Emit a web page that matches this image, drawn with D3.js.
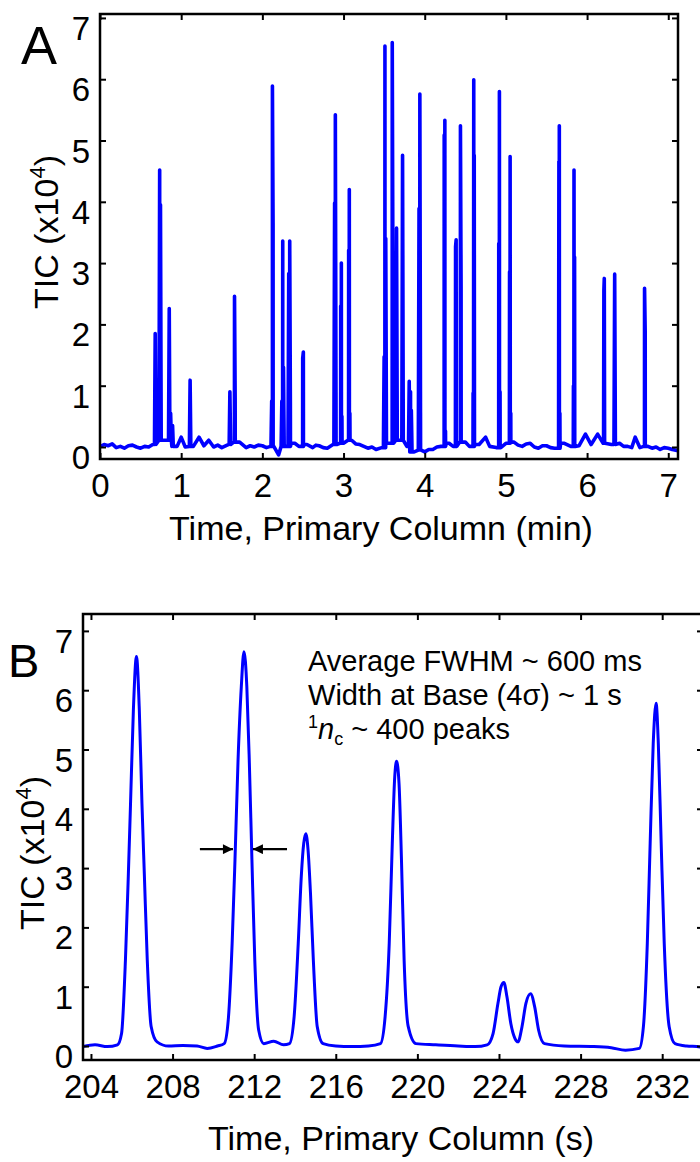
<!DOCTYPE html>
<html>
<head>
<meta charset="utf-8">
<script src="https://cdn.jsdelivr.net/npm/d3@7"></script>
<style>
body { margin: 0; background: #fff; }
text { font-family: "Liberation Sans", Arial, sans-serif; fill: #000; }
</style>
</head>
<body>
<svg id="chart" width="700" height="1162"></svg>
<script>
// ---- Panel A: primary column, whole run (min, TIC x10^4) ----
const aPeakTimes   = [0.68, 0.735, 0.745, 0.853, 0.87, 0.894, 1.11, 1.60, 1.657, 1.665,
                      2.115, 2.124, 2.132, 2.24, 2.251, 2.26, 2.325, 2.337, 2.345, 2.497, 2.505,
                      2.89, 2.899, 2.907, 2.965, 2.973, 2.98, 3.063, 3.071, 3.078,
                      3.50, 3.51, 3.52, 3.60, 3.608, 3.653, 3.727, 3.809, 3.825, 3.835,
                      3.93, 3.94, 3.948, 4.24, 4.248, 4.256, 4.38, 4.387, 4.44, 4.448,
                      4.596, 4.604, 4.61, 4.912, 4.92, 4.928, 5.045, 5.052, 5.06,
                      5.65, 5.653, 5.658, 5.665, 5.832, 5.839, 5.846,
                      6.207, 6.212, 6.34, 6.708, 6.716];
const aPeakHeights = [1.85, 4.52, 3.95, 2.26, 0.55, 0.35, 1.09, 0.90, 2.46, 0.8,
                      0.75, 5.89, 3.65, 0.75, 3.36, 1.3, 2.83, 3.36, 0.73, 1.45, 1.55,
                      3.98, 5.42, 0.88, 2.3, 3.0, 0.5, 3.21, 4.2, 0.55,
                      1.47, 6.54, 3.4, 6.6, 2.89, 3.57, 4.76, 1.07, 0.9, 0.6,
                      3.89, 5.76, 0.55, 5.09, 5.33, 0.26, 3.27, 3.38, 5.24, 2.62,
                      0.88, 5.99, 4.76, 3.32, 5.8, 0.9, 2.86, 4.74, 0.55,
                      1.65, 4.66, 5.24, 0.55, 1.0, 4.52, 3.1,
                      2.56, 2.75, 2.82, 2.59, 1.88];
const aBaseTimes  = [0, 0.05, 0.1, 0.15, 0.2, 0.25, 0.3, 0.35, 0.4, 0.45, 0.5, 0.55, 0.6, 0.65, 0.8, 0.95,
                     1.0, 1.05, 1.15, 1.22, 1.28, 1.34, 1.4, 1.45, 1.5, 1.58, 1.72, 1.8, 1.85, 1.9, 1.95,
                     2.0, 2.05, 2.1, 2.2, 2.28, 2.4, 2.45, 2.55, 2.62, 2.66, 2.7, 2.75, 2.8, 2.87, 3.0,
                     3.1, 3.15, 3.2, 3.25, 3.3, 3.35, 3.4, 3.47, 3.56, 3.68, 3.78, 3.87, 3.92, 4.0, 4.05,
                     4.1, 4.15, 4.2, 4.3, 4.35, 4.5, 4.55, 4.67, 4.75, 4.8, 4.88, 5.0, 5.1, 5.15, 5.2,
                     5.25, 5.3, 5.35, 5.4, 5.45, 5.5, 5.55, 5.6, 5.72, 5.8, 5.9, 5.98, 6.05, 6.13, 6.2,
                     6.3, 6.4, 6.45, 6.5, 6.55, 6.593, 6.65, 6.75, 6.8, 6.85, 6.9, 6.95, 7.0, 7.05, 7.12];
const aBaseValues = [0.01, 0.04, 0.02, 0.05, -0.01, 0.01, -0.02, 0.02, 0.03, 0.0, -0.02, 0.01, 0.0, 0.04, 0.11, 0.01,
                     0.16, 0.0, 0.01, 0.16, 0.02, 0.11, 0.0, 0.03, -0.01, 0.04, 0.08, -0.01, 0.02, 0.0, 0.03,
                     0.02, -0.01, 0.01, -0.13, 0.01, 0.06, 0.01, 0.04, -0.01, 0.03, 0.02, -0.01, -0.02, 0.04, 0.06,
                     0.11, 0.05, 0.04, 0.01, -0.02, 0.0, -0.04, -0.01, 0.06, 0.11, 0.01, -0.08, -0.05, -0.08, -0.04,
                     -0.04, 0.0, 0.01, 0.06, 0.01, 0.08, 0.01, 0.04, 0.16, 0.01, -0.01, 0.06, 0.08, 0.03, 0.01,
                     0.05, 0.06, 0.0, -0.02, 0.02, 0.02, -0.01, -0.02, 0.06, 0.01, 0.02, 0.21, 0.04, 0.21, 0.06,
                     0.04, 0.06, 0.01, 0.01, -0.01, 0.16, -0.01, 0.01, -0.02, 0.0, -0.04, -0.01, -0.02, -0.04, -0.06];
const aXTicks = [0, 1, 2, 3, 4, 5, 6, 7];
const aYTicks = [0, 1, 2, 3, 4, 5, 6, 7];

// ---- Panel B: zoom 204-234 s ----
const bTimes = [203.6, 204.2, 204.8, 205.3, 205.5, 205.69, 205.83, 205.94, 206.08, 206.23, 206.37, 206.50,
                206.62, 206.76, 206.95, 207.24, 207.8, 208.5, 209.2, 209.7, 210.2, 210.53, 210.73, 210.92,
                211.06, 211.21, 211.37, 211.50, 211.64, 211.76, 211.89, 212.03, 212.22, 212.47, 212.96,
                213.44, 213.73, 213.96, 214.16, 214.31, 214.43, 214.53, 214.64, 214.76, 214.90, 215.09,
                215.38, 216.0, 216.8, 217.6, 218.19, 218.42, 218.62, 218.77, 218.89, 218.98, 219.10,
                219.22, 219.35, 219.55, 219.93, 220.9, 222.0, 222.84, 223.42, 223.71, 223.95, 224.10,
                224.24, 224.39, 224.58, 224.78, 224.93, 225.13, 225.32, 225.55, 225.75, 225.94, 226.23,
                227.2, 228.65, 229.5, 230.2, 230.88, 231.08, 231.27, 231.41, 231.56, 231.70, 231.81,
                231.95, 232.10, 232.34, 232.63, 233.2, 233.7, 234.0];
const bValues = [-0.01, 0.02, -0.01, 0.02, 0.21, 1.45, 2.86, 4.09, 5.67, 6.57, 5.67, 4.09,
                 2.86, 1.45, 0.33, 0.07, 0.0, 0.01, 0.0, -0.04, 0.0, 0.04, 0.44, 1.73,
                 3.14, 4.82, 6.06, 6.65, 6.06, 4.82, 3.14, 1.45, 0.27, 0.04, 0.08,
                 0.02, 0.04, 0.5, 1.73, 2.86, 3.42, 3.58, 3.31, 2.58, 1.45, 0.33,
                 0.04, 0.0, -0.01, 0.0, 0.04, 0.5, 1.73, 3.42, 4.54, 4.80, 4.43,
                 3.14, 1.45, 0.33, 0.04, 0.02, 0.0, -0.01, 0.02, 0.21, 0.72, 1.0,
                 1.07, 0.83, 0.38, 0.13, 0.07, 0.33, 0.72, 0.88, 0.66, 0.27, 0.04,
                 0.0, -0.01, -0.03, -0.07, -0.04, 0.33, 1.73, 3.42, 5.1, 5.78, 5.1,
                 3.42, 1.73, 0.33, 0.04, 0.0, -0.01, -0.02];
const bXTicks = [204, 208, 212, 216, 220, 224, 228, 232];
const bYTicks = [0, 1, 2, 3, 4, 5, 6, 7];
// FWHM marker around the second peak (time, TIC)
const fwhmLeft  = [209.34, 210.96];
const fwhmRight = [213.61, 211.94];
const fwhmLevel = 3.32;
const notes = ["Average FWHM ~ 600 ms", "Width at Base (4\u03c3) ~ 1 s"];

const svg = d3.select("#chart");
const blue = "#0000ff";

function panel(opt) {
  const x = d3.scaleLinear().domain(opt.xDomain).range([opt.left, opt.right]);
  const y = d3.scaleLinear().domain(opt.yDomain).range([opt.bottom, opt.top]);
  const g = svg.append("g");

  g.append("clipPath").attr("id", opt.id + "clip")
    .append("rect")
    .attr("x", opt.left).attr("y", opt.top)
    .attr("width", opt.right - opt.left).attr("height", opt.bottom - opt.top);

  g.append("path")
    .datum(opt.points)
    .attr("clip-path", "url(#" + opt.id + "clip)")
    .attr("fill", "none")
    .attr("stroke", blue)
    .attr("stroke-width", opt.lineWidth)
    .attr("stroke-linejoin", "round")
    .attr("d", d3.line().x(d => x(d[0])).y(d => y(d[1])).curve(opt.curve));

  // axes, ticks pointing inward on all four sides
  const tick = 6;
  g.append("g").attr("transform", "translate(0," + opt.bottom + ")")
    .call(d3.axisBottom(x).tickValues(opt.xTicks).tickSizeInner(-tick).tickSizeOuter(0).tickPadding(15))
    .call(a => a.select(".domain").remove());
  g.append("g").attr("transform", "translate(0," + opt.top + ")")
    .call(d3.axisTop(x).tickValues(opt.xTicks).tickSizeInner(-tick).tickSizeOuter(0).tickFormat(""))
    .call(a => a.select(".domain").remove());
  g.append("g").attr("transform", "translate(" + opt.left + ",0)")
    .call(d3.axisLeft(y).tickValues(opt.yTicks).tickSizeInner(-tick).tickSizeOuter(0).tickPadding(10))
    .call(a => a.select(".domain").remove())
    .call(a => a.selectAll("text").attr("y", 11));
  g.append("g").attr("transform", "translate(" + opt.right + ",0)")
    .call(d3.axisRight(y).tickValues(opt.yTicks).tickSizeInner(-tick).tickSizeOuter(0).tickFormat(""))
    .call(a => a.select(".domain").remove());

  g.selectAll(".tick line").attr("stroke", "#000").attr("stroke-width", 2);
  g.selectAll(".tick text").attr("font-size", 33).attr("font-family", null).attr("fill", "#000");

  g.append("rect")
    .attr("x", opt.left).attr("y", opt.top)
    .attr("width", opt.right - opt.left).attr("height", opt.bottom - opt.top)
    .attr("fill", "none").attr("stroke", "#000").attr("stroke-width", 2.5);

  g.append("text")
    .attr("x", opt.xTitlePos[0]).attr("y", opt.xTitlePos[1])
    .attr("text-anchor", "middle").attr("font-size", 34)
    .text(opt.xTitle);

  const yt = g.append("text")
    .attr("transform", "translate(" + opt.yTitlePos[0] + "," + opt.yTitlePos[1] + ") rotate(-90)")
    .attr("text-anchor", "middle").attr("font-size", 34);
  yt.append("tspan").text("TIC (x10");
  yt.append("tspan").attr("font-size", 22).attr("dy", -13).text("4");
  yt.append("tspan").attr("dy", 13).text(")");

  g.append("text")
    .attr("x", opt.letterPos[0]).attr("y", opt.letterPos[1])
    .attr("font-size", opt.letterSize).text(opt.letter);

  return { g, x, y };
}

// build panel A trace: baseline samples with narrow spikes for each peak
const spikeHalf = 0.009;
const baseSorted = aBaseTimes.map((t, i) => [t, aBaseValues[i]]);
const nearestBase = t => {
  const i = d3.minIndex(baseSorted, d => Math.abs(d[0] - t));
  return baseSorted[i][1];
};
const aPoints = [];
baseSorted.forEach(d => {
  if (!aPeakTimes.some(t => Math.abs(t - d[0]) < spikeHalf * 1.5)) aPoints.push(d);
});
aPeakTimes.forEach((t, i) => {
  const b = nearestBase(t);
  aPoints.push([t - spikeHalf, b], [t, aPeakHeights[i]], [t + spikeHalf, b]);
});
aPoints.sort((p, q) => p[0] - q[0]);

panel({
  id: "a", points: aPoints, curve: d3.curveLinear, lineWidth: 3.6,
  xDomain: [0, 7.12], yDomain: [-0.196, 7.064],
  left: 100, right: 678, top: 14, bottom: 459,
  xTicks: aXTicks, yTicks: aYTicks,
  xTitle: "Time, Primary Column (min)", xTitlePos: [381, 540],
  yTitlePos: [58, 232],
  letter: "A", letterPos: [21, 64], letterSize: 54
});

const B = panel({
  id: "b", points: bTimes.map((t, i) => [t, bValues[i]]), curve: d3.curveMonotoneX, lineWidth: 3,
  xDomain: [203.61, 234.0], yDomain: [-0.236, 7.285],
  left: 83, right: 703, top: 614, bottom: 1060,
  xTicks: bXTicks, yTicks: bYTicks,
  xTitle: "Time, Primary Column (s)", xTitlePos: [401, 1150],
  yTitlePos: [44, 853],
  letter: "B", letterPos: [8, 677], letterSize: 47
});

// FWHM arrows
const defs = svg.append("defs");
defs.append("marker").attr("id", "head")
  .attr("viewBox", "0 0 10 10").attr("refX", 10).attr("refY", 5)
  .attr("markerWidth", 12).attr("markerHeight", 10).attr("markerUnits", "userSpaceOnUse")
  .attr("orient", "auto")
  .append("path").attr("d", "M0,0L10,5L0,10z").attr("fill", "#000");
[fwhmLeft, fwhmRight].forEach(seg => {
  B.g.append("line")
    .attr("x1", B.x(seg[0])).attr("x2", B.x(seg[1]))
    .attr("y1", B.y(fwhmLevel)).attr("y2", B.y(fwhmLevel))
    .attr("stroke", "#000").attr("stroke-width", 2.2)
    .attr("marker-end", "url(#head)");
});

// annotation
const noteX = B.x(214.64);
const noteY = 671;
notes.forEach((s, i) => {
  B.g.append("text").attr("x", noteX).attr("y", noteY + i * 34)
    .attr("font-size", 29).text(s);
});
const nc = B.g.append("text").attr("x", noteX).attr("y", noteY + 2 * 34).attr("font-size", 29);
nc.append("tspan").attr("font-size", 18).attr("dy", -11).text("1");
nc.append("tspan").attr("font-style", "italic").attr("dy", 11).text("n");
nc.append("tspan").attr("font-size", 18).attr("dy", 6).text("c");
nc.append("tspan").attr("dy", -6).text(" ~ 400 peaks");
</script>
</body>
</html>
